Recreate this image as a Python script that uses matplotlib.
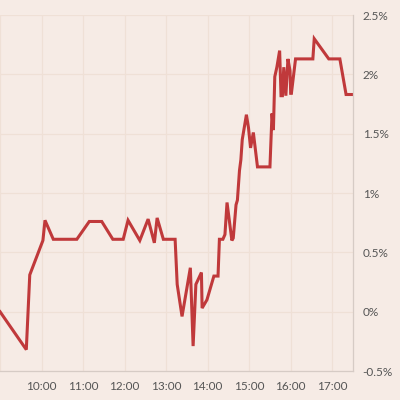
import matplotlib
matplotlib.use("Agg")
import matplotlib.pyplot as plt

# minutes since 09:00 and percent change
minutes = [0, 38, 43, 62, 65, 77, 111, 129, 147, 163, 178, 185, 202, 214, 223, 227,
           236, 253, 256, 263, 275, 279, 283, 291, 292, 299, 309, 315, 317, 322, 325,
           328, 335, 337, 341, 343, 346, 348, 350, 356, 359, 362, 366, 372, 390, 393,
           395, 397, 400, 404, 406, 408, 410, 413, 416, 419, 420, 421, 427, 452, 454,
           475, 491, 500, 510]
values = [0.0, -0.32, 0.31, 0.60, 0.77, 0.61, 0.61, 0.76, 0.76, 0.61, 0.61, 0.77, 0.60,
          0.78, 0.58, 0.79, 0.61, 0.61, 0.23, -0.04, 0.37, -0.29, 0.23, 0.33, 0.03, 0.10,
          0.30, 0.30, 0.61, 0.61, 0.65, 0.92, 0.60, 0.62, 0.90, 0.94, 1.19, 1.28, 1.45,
          1.66, 1.55, 1.38, 1.51, 1.22, 1.22, 1.67, 1.53, 1.98, 2.06, 2.20, 1.82, 1.82,
          2.06, 1.82, 2.13, 2.03, 1.84, 1.84, 2.13, 2.13, 2.30, 2.13, 2.13, 1.83, 1.83]

x_ticks = [60, 120, 180, 240, 300, 360, 420, 480]
x_labels = ["10:00", "11:00", "12:00", "13:00", "14:00", "15:00", "16:00", "17:00"]
y_ticks = [-0.5, 0, 0.5, 1, 1.5, 2, 2.5]
y_labels = ["-0.5%", "0%", "0.5%", "1%", "1.5%", "2%", "2.5%"]

bg = "#f6ebe5"
fig = plt.figure(figsize=(4, 4), dpi=100, facecolor=bg)
ax = fig.add_axes([0.0, 0.0725, 0.8825, 0.89])
ax.set_facecolor(bg)
ax.plot(minutes, values, color="#c0393b", lw=2.2, solid_joinstyle="miter")
ax.set_xlim(0, 510)
ax.set_ylim(-0.5, 2.5)
ax.set_xticks([0] + x_ticks)
ax.set_xticklabels([""] + x_labels)
ax.set_yticks(y_ticks)
ax.set_yticklabels(y_labels)
ax.yaxis.tick_right()
ax.grid(True, color="#efe0d6", lw=0.9)
ax.set_axisbelow(True)
for s in ["top", "left"]:
    ax.spines[s].set_visible(False)
for s in ["right", "bottom"]:
    ax.spines[s].set_color("#d6cbc5")
    ax.spines[s].set_linewidth(0.9)
ax.tick_params(length=0, labelsize=8.5, labelcolor="#555555")
ax.tick_params(axis="y", pad=7)
ax.tick_params(axis="x", pad=7)
for lab in ax.get_xticklabels() + ax.get_yticklabels():
    lab.set_family("Lato")
fig.savefig("out.png", dpi=100, facecolor=bg)
